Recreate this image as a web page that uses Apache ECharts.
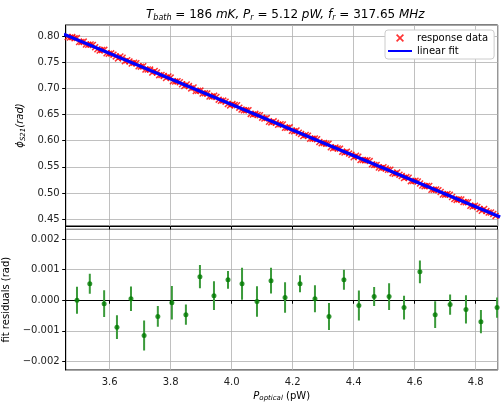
<!DOCTYPE html>
<html>
<head>
<meta charset="utf-8">
<script src="https://cdn.jsdelivr.net/npm/echarts@6.0.0/dist/echarts.min.js"></script>
<style>
  html, body { margin: 0; padding: 0; background: #fff; }
  #chart { width: 504px; height: 413px; }
</style>
</head>
<body>
<div id="chart"></div>
<script>
// response data (phase vs optical power), two interleaved sweeps
const phiX = [
  3.455, 3.470, 3.485, 3.500, 3.515, 3.530, 3.545, 3.560, 3.575, 3.590,
  3.605, 3.620, 3.635, 3.650, 3.665, 3.680, 3.695, 3.710, 3.725, 3.740,
  3.755, 3.770, 3.785, 3.800, 3.815, 3.830, 3.845, 3.860, 3.875, 3.890,
  3.905, 3.920, 3.935, 3.950, 3.965, 3.980, 3.995, 4.010, 4.025, 4.040,
  4.055, 4.070, 4.085, 4.100, 4.115, 4.130, 4.145, 4.160, 4.175, 4.190,
  4.205, 4.220, 4.235, 4.250, 4.265, 4.280, 4.295, 4.310, 4.325, 4.340,
  4.355, 4.370, 4.385, 4.400, 4.415, 4.430, 4.445, 4.460, 4.475, 4.490,
  4.505, 4.520, 4.535, 4.550, 4.565, 4.580, 4.595, 4.610, 4.625, 4.640,
  4.655, 4.670, 4.685, 4.700, 4.715, 4.730, 4.745, 4.760, 4.775, 4.790,
  4.805, 4.820, 4.835, 4.850, 4.865, 4.880
];
const phiY = [
  0.8043, 0.7972, 0.7957, 0.7886, 0.7893, 0.7834, 0.7830, 0.7747, 0.7732, 0.7670,
  0.7668, 0.7610, 0.7607, 0.7519, 0.7515, 0.7491, 0.7420, 0.7422, 0.7360, 0.7302,
  0.7304, 0.7256, 0.7198, 0.7205, 0.7131, 0.7115, 0.7044, 0.7045, 0.7016, 0.6952,
  0.6901, 0.6902, 0.6845, 0.6836, 0.6761, 0.6746, 0.6674, 0.6684, 0.6631, 0.6579,
  0.6583, 0.6499, 0.6492, 0.6440, 0.6431, 0.6349, 0.6341, 0.6313, 0.6245, 0.6255,
  0.6179, 0.6153, 0.6090, 0.6096, 0.6039, 0.6027, 0.5951, 0.5940, 0.5874, 0.5870,
  0.5848, 0.5774, 0.5753, 0.5684, 0.5695, 0.5631, 0.5626, 0.5550, 0.5535, 0.5473,
  0.5469, 0.5445, 0.5369, 0.5348, 0.5285, 0.5291, 0.5231, 0.5219, 0.5144, 0.5136,
  0.5063, 0.5068, 0.5019, 0.4969, 0.4967, 0.4884, 0.4879, 0.4827, 0.4824, 0.4743,
  0.4735, 0.4661, 0.4657, 0.4629, 0.4563, 0.4562
];
const phiX2 = [
  3.4625, 3.4775, 3.4925, 3.5075, 3.5225, 3.5375, 3.5525, 3.5675, 3.5825, 3.5975,
  3.6125, 3.6275, 3.6425, 3.6575, 3.6725, 3.6875, 3.7025, 3.7175, 3.7325, 3.7475,
  3.7625, 3.7775, 3.7925, 3.8075, 3.8225, 3.8375, 3.8525, 3.8675, 3.8825, 3.8975,
  3.9125, 3.9275, 3.9425, 3.9575, 3.9725, 3.9875, 4.0025, 4.0175, 4.0325, 4.0475,
  4.0625, 4.0775, 4.0925, 4.1075, 4.1225, 4.1375, 4.1525, 4.1675, 4.1825, 4.1975,
  4.2125, 4.2275, 4.2425, 4.2575, 4.2725, 4.2875, 4.3025, 4.3175, 4.3325, 4.3475,
  4.3625, 4.3775, 4.3925, 4.4075, 4.4225, 4.4375, 4.4525, 4.4675, 4.4825, 4.4975,
  4.5125, 4.5275, 4.5425, 4.5575, 4.5725, 4.5875, 4.6025, 4.6175, 4.6325, 4.6475,
  4.6625, 4.6775, 4.6925, 4.7075, 4.7225, 4.7375, 4.7525, 4.7675, 4.7825, 4.7975,
  4.8125, 4.8275, 4.8425, 4.8575, 4.8725
];
const phiY2 = [
  0.7981, 0.7979, 0.7960, 0.7886, 0.7838, 0.7838, 0.7787, 0.7721, 0.7735, 0.7662,
  0.7644, 0.7572, 0.7583, 0.7537, 0.7475, 0.7481, 0.7414, 0.7360, 0.7358, 0.7330,
  0.7252, 0.7236, 0.7226, 0.7136, 0.7134, 0.7079, 0.7072, 0.6999, 0.6950, 0.6957,
  0.6908, 0.6844, 0.6857, 0.6784, 0.6766, 0.6699, 0.6702, 0.6677, 0.6594, 0.6579,
  0.6512, 0.6513, 0.6487, 0.6425, 0.6362, 0.6369, 0.6305, 0.6308, 0.6245, 0.6188,
  0.6195, 0.6127, 0.6109, 0.6036, 0.6044, 0.5974, 0.5957, 0.5942, 0.5855, 0.5850,
  0.5787, 0.5790, 0.5729, 0.5712, 0.5631, 0.5624, 0.5610, 0.5537, 0.5487, 0.5494,
  0.5445, 0.5380, 0.5394, 0.5323, 0.5304, 0.5227, 0.5234, 0.5183, 0.5130, 0.5134,
  0.5063, 0.5053, 0.4972, 0.4983, 0.4924, 0.4869, 0.4875, 0.4823, 0.4756, 0.4756,
  0.4693, 0.4695, 0.4626, 0.4599, 0.4538
];

// linear fit end points
const fitX = [3.45, 4.88];
const fitY = [0.8035, 0.4541];

// binned fit residuals with error bars
const resX = [3.493, 3.535, 3.582, 3.624, 3.670, 3.713, 3.758, 3.804, 3.850, 3.896,
  3.942, 3.988, 4.034, 4.083, 4.129, 4.175, 4.224, 4.273, 4.319, 4.368,
  4.417, 4.467, 4.516, 4.565, 4.617, 4.667, 4.716, 4.768, 4.817, 4.870];
const resY = [0.00000, 0.00054, -0.00011, -0.00088, 0.00005, -0.00115, -0.00053, -0.00008, -0.00047, 0.00077,
  0.00015, 0.00067, 0.00054, -0.00004, 0.00064, 0.00009, 0.00054, 0.00005, -0.00053, 0.00067,
  -0.00017, 0.00012, 0.00012, -0.00024, 0.00093, -0.00047, -0.00014, -0.00030, -0.00070, -0.00024];
const resErr = [0.00044, 0.00033, 0.00044, 0.00039, 0.00040, 0.00049, 0.00034, 0.00055, 0.00033, 0.00038,
  0.00047, 0.00029, 0.00052, 0.00050, 0.00042, 0.00050, 0.00028, 0.00044, 0.00044, 0.00033,
  0.00049, 0.00031, 0.00044, 0.00039, 0.00037, 0.00044, 0.00033, 0.00046, 0.00038, 0.00033];

const font = 'DejaVu Sans';
const xMark = 'path://M1.5,0L5,3.5L8.5,0L10,1.5L6.5,5L10,8.5L8.5,10L5,6.5L1.5,10L0,8.5L3.5,5L0,1.5Z';

const myChart = echarts.init(document.getElementById('chart'));

const axisCommon = {
  type: 'value',
  axisLine: { show: true, lineStyle: { color: '#000', width: 1 } },
  axisTick: { show: true, inside: false, length: 3.5, lineStyle: { color: '#000' } },
  splitLine: { show: true, lineStyle: { color: '#b0b0b0', width: 0.8 } },
  axisLabel: { show: true, color: '#222', fontFamily: font, fontSize: 10, margin: 6, showMinLabel: false, showMaxLabel: false }
};

const subStyles = {
  n: { fontFamily: font, fontSize: 10, color: '#000' },
  i: { fontFamily: font, fontSize: 10, fontStyle: 'italic', color: '#000' },
  s: { fontFamily: font, fontSize: 7, fontStyle: 'italic', color: '#000', padding: [5, 0, 0, 0] }
};

const responseData = phiX.map((x, i) => [x, phiY[i]])
  .concat(phiX2.map((x, i) => [x, phiY2[i]]));

myChart.setOption({
  animation: false,
  title: {
    text: '{i|T}{s|bath}{n| = 186 }{i|mK, P}{s|r}{n| = 5.12 }{i|pW, f}{s|r}{n| = 317.65 }{i|MHz}',
    left: 146,
    top: 6,
    padding: [2, 0, 2, 0],
    textStyle: {
      fontWeight: 'normal',
      rich: {
        n: { fontFamily: font, fontSize: 12, fontWeight: 'normal', color: '#000' },
        i: { fontFamily: font, fontSize: 12, fontWeight: 'normal', fontStyle: 'italic', color: '#000' },
        s: { fontFamily: font, fontSize: 8, fontWeight: 'normal', fontStyle: 'italic', color: '#000', padding: [6, 0, 0, 0] }
      }
    }
  },
  legend: {
    left: 385,
    top: 30,
    orient: 'vertical',
    itemWidth: 24,
    itemHeight: 8,
    itemGap: 3,
    padding: [3, 6, 3, 2],
    backgroundColor: '#fff',
    borderColor: '#cccccc',
    borderWidth: 1,
    borderRadius: 3,
    selectedMode: false,
    textStyle: { fontFamily: font, fontSize: 10, color: '#000' },
    data: [
      { name: 'response data' },
      { name: 'linear fit', itemStyle: { opacity: 0 } }
    ]
  },
  grid: [
    { left: 65.7, right: 6.3, top: 25, height: 201, outerBoundsMode: 'none', show: true, borderColor: '#000', borderWidth: 1, backgroundColor: 'transparent' },
    { left: 65.7, right: 6.3, top: 229.3, height: 140.7, outerBoundsMode: 'none', show: true, borderColor: '#000', borderWidth: 1, backgroundColor: 'transparent' }
  ],
  xAxis: [
    Object.assign({}, axisCommon, {
      gridIndex: 0, min: 3.456, max: 4.872, splitNumber: 7,
      axisLabel: { show: false }
    }),
    Object.assign({}, axisCommon, {
      gridIndex: 1, min: 3.456, max: 4.872, splitNumber: 7,
      axisLabel: Object.assign({}, axisCommon.axisLabel, { formatter: v => v.toFixed(1), margin: 7 }),
      name: '{i|P}{s|optical}{n| (pW)}',
      nameLocation: 'middle',
      nameGap: 20,
      nameTextStyle: { rich: subStyles }
    })
  ],
  yAxis: [
    Object.assign({}, axisCommon, {
      gridIndex: 0, min: 0.437, max: 0.821, splitNumber: 8,
      axisLabel: Object.assign({}, axisCommon.axisLabel, { formatter: v => v.toFixed(2) }),
      name: '{i|ϕ}{s|S21}{i|(rad)}',
      nameLocation: 'middle',
      nameRotate: 90,
      nameGap: 37,
      nameTextStyle: { rich: subStyles }
    }),
    Object.assign({}, axisCommon, {
      gridIndex: 1, min: -0.00228, max: 0.00232, splitNumber: 4,
      axisLabel: Object.assign({}, axisCommon.axisLabel, {
        formatter: v => (v < -1e-9 ? '\u2212' : '') + Math.abs(v).toFixed(3)
      }),
      name: 'fit residuals (rad)',
      nameLocation: 'middle',
      nameRotate: 90,
      nameGap: 48,
      nameTextStyle: { fontFamily: font, fontSize: 10, color: '#000' }
    })
  ],
  series: [
    {
      name: 'response data',
      type: 'scatter',
      xAxisIndex: 0,
      yAxisIndex: 0,
      symbol: xMark,
      symbolSize: 7,
      symbolKeepAspect: true,
      itemStyle: { color: '#ff0000' },
      clip: true,
      data: responseData
    },
    {
      name: 'linear fit',
      type: 'line',
      xAxisIndex: 0,
      yAxisIndex: 0,
      symbol: 'none',
      lineStyle: { color: '#0000ff', width: 3.3 },
      itemStyle: { color: '#0000ff' },
      clip: true,
      data: fitX.map((x, i) => [x, fitY[i]])
    },
    {
      name: 'residual errors',
      type: 'custom',
      xAxisIndex: 1,
      yAxisIndex: 1,
      clip: true,
      encode: { x: 0, y: 1 },
      renderItem: (params, api) => {
        const x = api.value(0);
        const y = api.value(1);
        const e = api.value(2);
        const top = api.coord([x, y + e]);
        const bot = api.coord([x, y - e]);
        return {
          type: 'line',
          shape: { x1: top[0], y1: top[1], x2: bot[0], y2: bot[1] },
          style: { stroke: '#3a9a3a', lineWidth: 2 }
        };
      },
      data: resX.map((x, i) => [x, resY[i], resErr[i]])
    },
    {
      name: 'residuals',
      type: 'scatter',
      xAxisIndex: 1,
      yAxisIndex: 1,
      symbol: 'circle',
      symbolSize: 5,
      itemStyle: { color: '#007a00' },
      clip: true,
      data: resX.map((x, i) => [x, resY[i]])
    }
  ]
});

window.addEventListener('resize', myChart.resize);
</script>
</body>
</html>
